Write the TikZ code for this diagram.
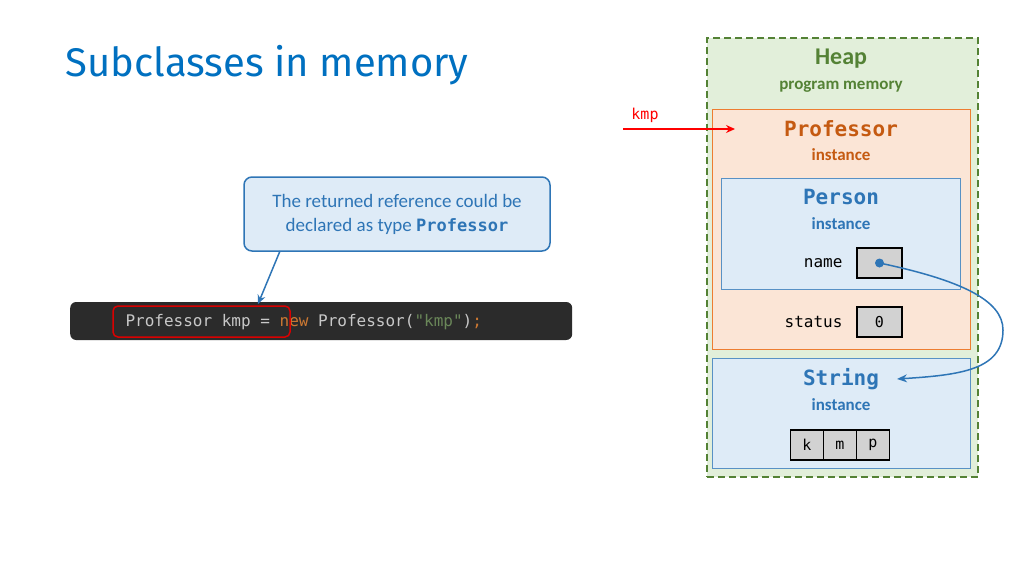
\documentclass[tikz,border=0pt]{standalone}
\usepackage{fontspec}
\setmainfont{Carlito}
\newfontfamily\titlef{Fira Sans}
\newfontfamily\monof{DejaVu Sans Mono}
\usetikzlibrary{arrows.meta}
\definecolor{tblue}{RGB}{0,112,192}
\definecolor{dblue}{RGB}{46,117,182}
\definecolor{lblue}{RGB}{222,235,247}
\definecolor{hgreen}{RGB}{84,130,53}
\definecolor{lgreen}{RGB}{226,239,218}
\definecolor{peach}{RGB}{251,229,214}
\definecolor{orng}{RGB}{197,90,17}
\definecolor{obord}{RGB}{237,125,49}
\definecolor{cell}{RGB}{210,210,210}
\definecolor{codebg}{RGB}{43,43,43}
\definecolor{codetx}{RGB}{200,200,200}
\definecolor{kw}{RGB}{204,120,50}
\definecolor{str}{RGB}{106,135,89}
\tikzset{
 box/.style={draw, line width=0.8pt, inner sep=0pt},
 cellst/.style={draw=black, line width=1.2pt, fill=cell, minimum width=33pt, minimum height=30pt, inner sep=0pt, font=\monof\fontsize{15}{15}\selectfont},
 lbl/.style={font=\bfseries\fontsize{17}{17}\selectfont},
 mono/.style={font=\monof\fontsize{16}{16}\selectfont},
}
\begin{document}
\begin{tikzpicture}[x=1pt,y=-1pt]
\useasboundingbox (0,0) rectangle (1024,576);
\node[anchor=west, text=tblue, font=\titlef\fontsize{40}{40}\selectfont] (title) at (62,65) {Subclasses in memory};
% heap
\node[box, draw=hgreen, dashed, line width=1.5pt, dash pattern=on 7pt off 4pt, fill=lgreen, minimum width=271pt, minimum height=439pt, anchor=north west] (heap) at (706,37) {};
\node[text=hgreen, font=\bfseries\fontsize{24}{24}\selectfont] (heapt) at (841,59) {Heap};
\node[text=hgreen, lbl] (pm) at (841,87) {program memory};
% professor
\node[box, draw=obord, fill=peach, minimum width=258pt, minimum height=240pt, anchor=north west] (prof) at (712,109) {};
\node[text=orng, font=\monof\bfseries\fontsize{21}{21}\selectfont] (proft) at (841,129) {Professor};
\node[text=orng, lbl] (profi) at (841,155) {instance};
% person
\node[box, draw=dblue!80, fill=lblue, minimum width=239pt, minimum height=111pt, anchor=north west] (pers) at (721,178) {};
\node[text=dblue, font=\monof\bfseries\fontsize{21}{21}\selectfont] (perst) at (841,197) {Person};
\node[text=dblue, lbl] (persi) at (841,224) {instance};
\node[mono, anchor=east] (namel) at (846,263) {name};
\node[cellst, minimum width=45pt] (namec) at (879.5,263) {};
\node[mono, anchor=east] (statl) at (846,322) {status};
\node[cellst, minimum width=45pt] (statc) at (879.5,322) {0};
% string
\node[box, draw=dblue!80, fill=lblue, minimum width=258pt, minimum height=110pt, anchor=north west] (strb) at (712,358) {};
\node[text=dblue, font=\monof\bfseries\fontsize{21}{21}\selectfont] (strt) at (841,379) {String};
\node[text=dblue, lbl] (stri) at (841,405) {instance};
\node[cellst] (ck) at (807,445) {k};
\node[cellst] (cm) at (840,445) {m};
\node[cellst] (cp) at (873,445) {p};
% reference arrow
\fill[dblue] (namec.center) circle (4.5pt);
\coordinate (dot) at (namec.center);
\coordinate (sarr) at (897,379);
\draw[dblue, line width=1.5pt, -{Stealth[length=10pt,width=8pt]}] (dot) .. controls (960,280) and (1003,300) .. (1003,330) .. controls (1003,370) and (960,375) .. (sarr);
% kmp
\node[text=red, font=\monof\fontsize{15}{15}\selectfont] (kmpl) at (645,115) {kmp};
\coordinate (kmps) at (623,129);
\coordinate (kmpe) at (735,129);
\draw[red, line width=1.5pt, -{Stealth[length=9pt,width=8pt]}] (kmps) -- (kmpe);
% callout
\node[draw=dblue, line width=1.5pt, rounded corners=8pt, fill=lblue, minimum width=306pt, minimum height=74pt, align=center, font=\fontsize{19}{24}\selectfont, text=dblue] (call) at (397,214) {The returned reference could be\\declared as type {\monof\bfseries\fontsize{17}{17}\selectfont Professor}};
% code
\node[fill=codebg, rounded corners=6pt, minimum width=502pt, minimum height=38pt, anchor=west] (code) at (70,321) {};
\node[anchor=west, mono, text=codetx] (codet) at (122,322) {Professor kmp = \textcolor{kw}{new} Professor(\textcolor{str}{"kmp"})\textcolor{kw}{;}};
\node[draw=red!85!black, line width=1.5pt, rounded corners=5pt, minimum width=177pt, minimum height=31pt] (hl) at (201.5,321.5) {};
\coordinate (cs) at (280,251);
\draw[dblue, line width=1.5pt, -{Stealth[length=9pt,width=8pt]}] (cs) -- (258,304);
\end{tikzpicture}
\end{document}
